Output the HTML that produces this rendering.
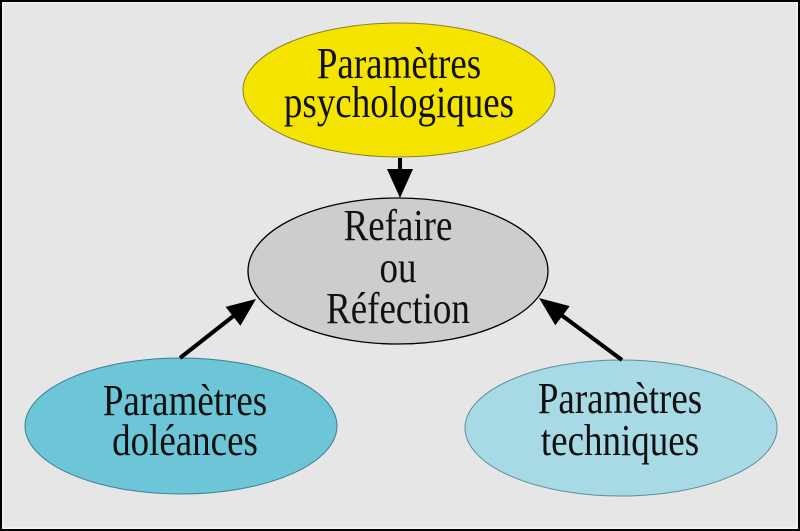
<!DOCTYPE html>
<html><head><meta charset="utf-8"><style>
html,body{margin:0;padding:0;background:#e6e6e6;}
svg{display:block;}
text{font-family:"Liberation Serif","Times New Roman",serif;font-size:37px;fill:#111;text-anchor:middle;}
</style></head><body>
<svg width="800" height="531" viewBox="0 0 800 531" xmlns="http://www.w3.org/2000/svg">
<rect x="0" y="0" width="800" height="531" fill="#e6e6e6"/>
<rect x="1" y="1" width="798" height="529" fill="none" stroke="#000" stroke-width="2"/>
<rect x="3" y="3" width="794" height="525" fill="none" stroke="#f8f8f8" stroke-width="1"/>

<ellipse cx="399" cy="90" rx="156" ry="67" fill="#f4e400" stroke="#8a8030" stroke-width="1"/>
<ellipse cx="398" cy="271" rx="150" ry="73" fill="#cdcdcd" stroke="#000" stroke-width="1.3"/>
<ellipse cx="181" cy="426" rx="156" ry="68" fill="#6cc6d8" stroke="#3b7f8f" stroke-width="1"/>
<ellipse cx="621" cy="428" rx="156" ry="68" fill="#a8dae6" stroke="#5a8e9c" stroke-width="1"/>

<line x1="400" y1="158" x2="400" y2="175" stroke="#000" stroke-width="4"/>
<polygon points="400,198 387,169 413,169" fill="#000"/>
<line x1="180" y1="358" x2="236" y2="314" stroke="#000" stroke-width="4"/>
<polygon points="256,299 240.4,325.7 225.6,306.9" fill="#000"/>
<line x1="622" y1="360" x2="560" y2="314" stroke="#000" stroke-width="4"/>
<polygon points="539,298 569.7,306.1 555.3,325.3" fill="#000"/>

<text transform="translate(399,78) scale(1,1.2)">Paramètres</text>
<text transform="translate(399,117) scale(1,1.2)">psychologiques</text>
<text transform="translate(398,240) scale(1,1.2)">Refaire</text>
<text transform="translate(398,282) scale(1,1.2)">ou</text>
<text transform="translate(398,323) scale(1,1.2)">Réfection</text>
<text transform="translate(185,415) scale(1,1.2)">Paramètres</text>
<text transform="translate(185,455) scale(1,1.2)">doléances</text>
<text transform="translate(620,413) scale(1,1.2)">Paramètres</text>
<text transform="translate(620,455) scale(1,1.2)">techniques</text>
</svg>
</body></html>
